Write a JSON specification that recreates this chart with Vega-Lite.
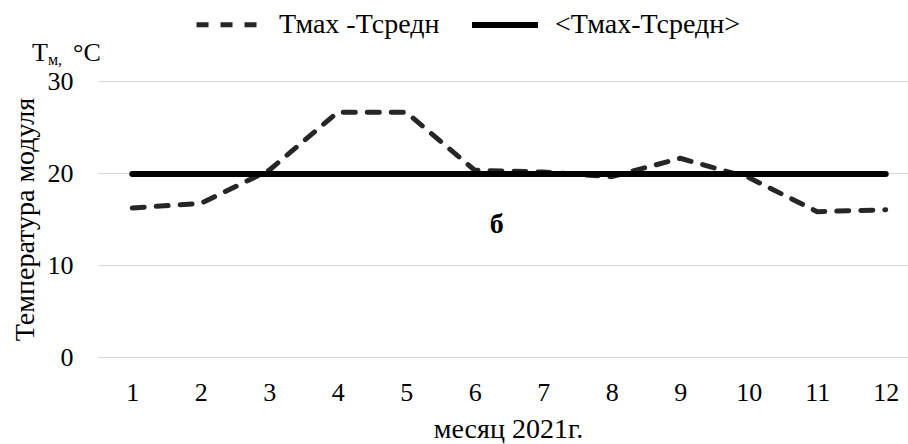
{
  "$schema": "https://vega.github.io/schema/vega-lite/v6.json",
  "width": 810,
  "height": 276,
  "autosize": {"type": "none"},
  "padding": {"left": 98, "top": 81, "right": 0, "bottom": 87},
  "background": "white",
  "config": {"font": "Liberation Serif", "view": {"stroke": null}},
  "layer": [
    {
      "data": {"values": [
        {"month": 1, "value": 16.2, "series": "Тмах -Тсредн"},
        {"month": 2, "value": 16.7, "series": "Тмах -Тсредн"},
        {"month": 3, "value": 20.3, "series": "Тмах -Тсредн"},
        {"month": 4, "value": 26.6, "series": "Тмах -Тсредн"},
        {"month": 5, "value": 26.6, "series": "Тмах -Тсредн"},
        {"month": 6, "value": 20.3, "series": "Тмах -Тсредн"},
        {"month": 7, "value": 20.1, "series": "Тмах -Тсредн"},
        {"month": 8, "value": 19.6, "series": "Тмах -Тсредн"},
        {"month": 9, "value": 21.6, "series": "Тмах -Тсредн"},
        {"month": 10, "value": 19.5, "series": "Тмах -Тсредн"},
        {"month": 11, "value": 15.8, "series": "Тмах -Тсредн"},
        {"month": 12, "value": 16.0, "series": "Тмах -Тсредн"},
        {"month": 1, "value": 19.9, "series": "<Тмах-Тсредн>"},
        {"month": 2, "value": 19.9, "series": "<Тмах-Тсредн>"},
        {"month": 3, "value": 19.9, "series": "<Тмах-Тсредн>"},
        {"month": 4, "value": 19.9, "series": "<Тмах-Тсредн>"},
        {"month": 5, "value": 19.9, "series": "<Тмах-Тсредн>"},
        {"month": 6, "value": 19.9, "series": "<Тмах-Тсредн>"},
        {"month": 7, "value": 19.9, "series": "<Тмах-Тсредн>"},
        {"month": 8, "value": 19.9, "series": "<Тмах-Тсредн>"},
        {"month": 9, "value": 19.9, "series": "<Тмах-Тсредн>"},
        {"month": 10, "value": 19.9, "series": "<Тмах-Тсредн>"},
        {"month": 11, "value": 19.9, "series": "<Тмах-Тсредн>"},
        {"month": 12, "value": 19.9, "series": "<Тмах-Тсредн>"}
      ]},
      "mark": {"type": "line", "strokeCap": "round", "strokeJoin": "round"},
      "encoding": {
        "x": {"field": "month", "type": "quantitative", "scale": {"domain": [0.5, 12.325], "nice": false, "zero": false},
          "axis": {"values": [1,2,3,4,5,6,7,8,9,10,11,12], "format": "d", "title": "месяц 2021г.", "grid": false, "domain": false, "ticks": false,
            "labelFontSize": 26, "labelPadding": 22, "labelColor": "#000", "labelFlush": false, "titleFontSize": 28, "titleFontWeight": "normal", "titleColor": "#000", "titlePadding": 10, "titleX": 410}},
        "y": {"field": "value", "type": "quantitative", "scale": {"domain": [0, 30], "nice": false},
          "axis": {"values": [0, 10, 20, 30], "format": "d", "title": "Температура модуля", "grid": true, "gridColor": "#d9d9d9", "gridWidth": 1, "domain": false, "ticks": false,
            "labelFontSize": 26, "labelPadding": 25, "labelColor": "#000", "titleFontSize": 28, "titleFontWeight": "normal", "titleColor": "#000", "titlePadding": 8}},
        "strokeDash": {"field": "series", "type": "nominal",
          "scale": {"domain": ["Тмах -Тсредн", "<Тмах-Тсредн>"], "range": [[12, 12], [1, 0]]}},
        "strokeWidth": {"field": "series", "type": "nominal",
          "scale": {"domain": ["Тмах -Тсредн", "<Тмах-Тсредн>"], "range": [5, 6]}},
        "color": {"field": "series", "type": "nominal",
          "scale": {"domain": ["Тмах -Тсредн", "<Тмах-Тсредн>"], "range": ["#262626", "#000000"]},
          "legend": {"orient": "none", "legendX": 96, "legendY": -92, "direction": "horizontal", "title": null,
            "symbolType": "stroke", "symbolSize": 4356, "labelFontSize": 28, "labelColor": "#000", "labelFont": "Liberation Serif", "labelLimit": 0, "columnPadding": 20, "labelOffset": 14}}
      }
    },
    {
      "data": {"values": [{"month": 6.32, "value": 14.35, "label": "б"}]},
      "mark": {"type": "text", "fontSize": 28, "fontWeight": "bold", "color": "#000", "font": "Liberation Serif", "baseline": "middle"},
      "encoding": {
        "x": {"field": "month", "type": "quantitative"},
        "y": {"field": "value", "type": "quantitative"},
        "text": {"field": "label"}
      }
    },
    {
      "data": {"values": [{"month": -0.4635, "value": 32.17, "label": "Т"}, {"month": 0.135, "value": 32.17, "label": "°C"}]},
      "mark": {"type": "text", "fontSize": 26, "color": "#000", "font": "Liberation Serif", "align": "left", "baseline": "alphabetic"},
      "encoding": {
        "x": {"field": "month", "type": "quantitative"},
        "y": {"field": "value", "type": "quantitative"},
        "text": {"field": "label"}
      }
    },
    {
      "data": {"values": [{"month": -0.23, "value": 31.74, "label": "м,"}]},
      "mark": {"type": "text", "fontSize": 16, "color": "#000", "font": "Liberation Serif", "align": "left", "baseline": "alphabetic"},
      "encoding": {
        "x": {"field": "month", "type": "quantitative"},
        "y": {"field": "value", "type": "quantitative"},
        "text": {"field": "label"}
      }
    }
  ]
}
